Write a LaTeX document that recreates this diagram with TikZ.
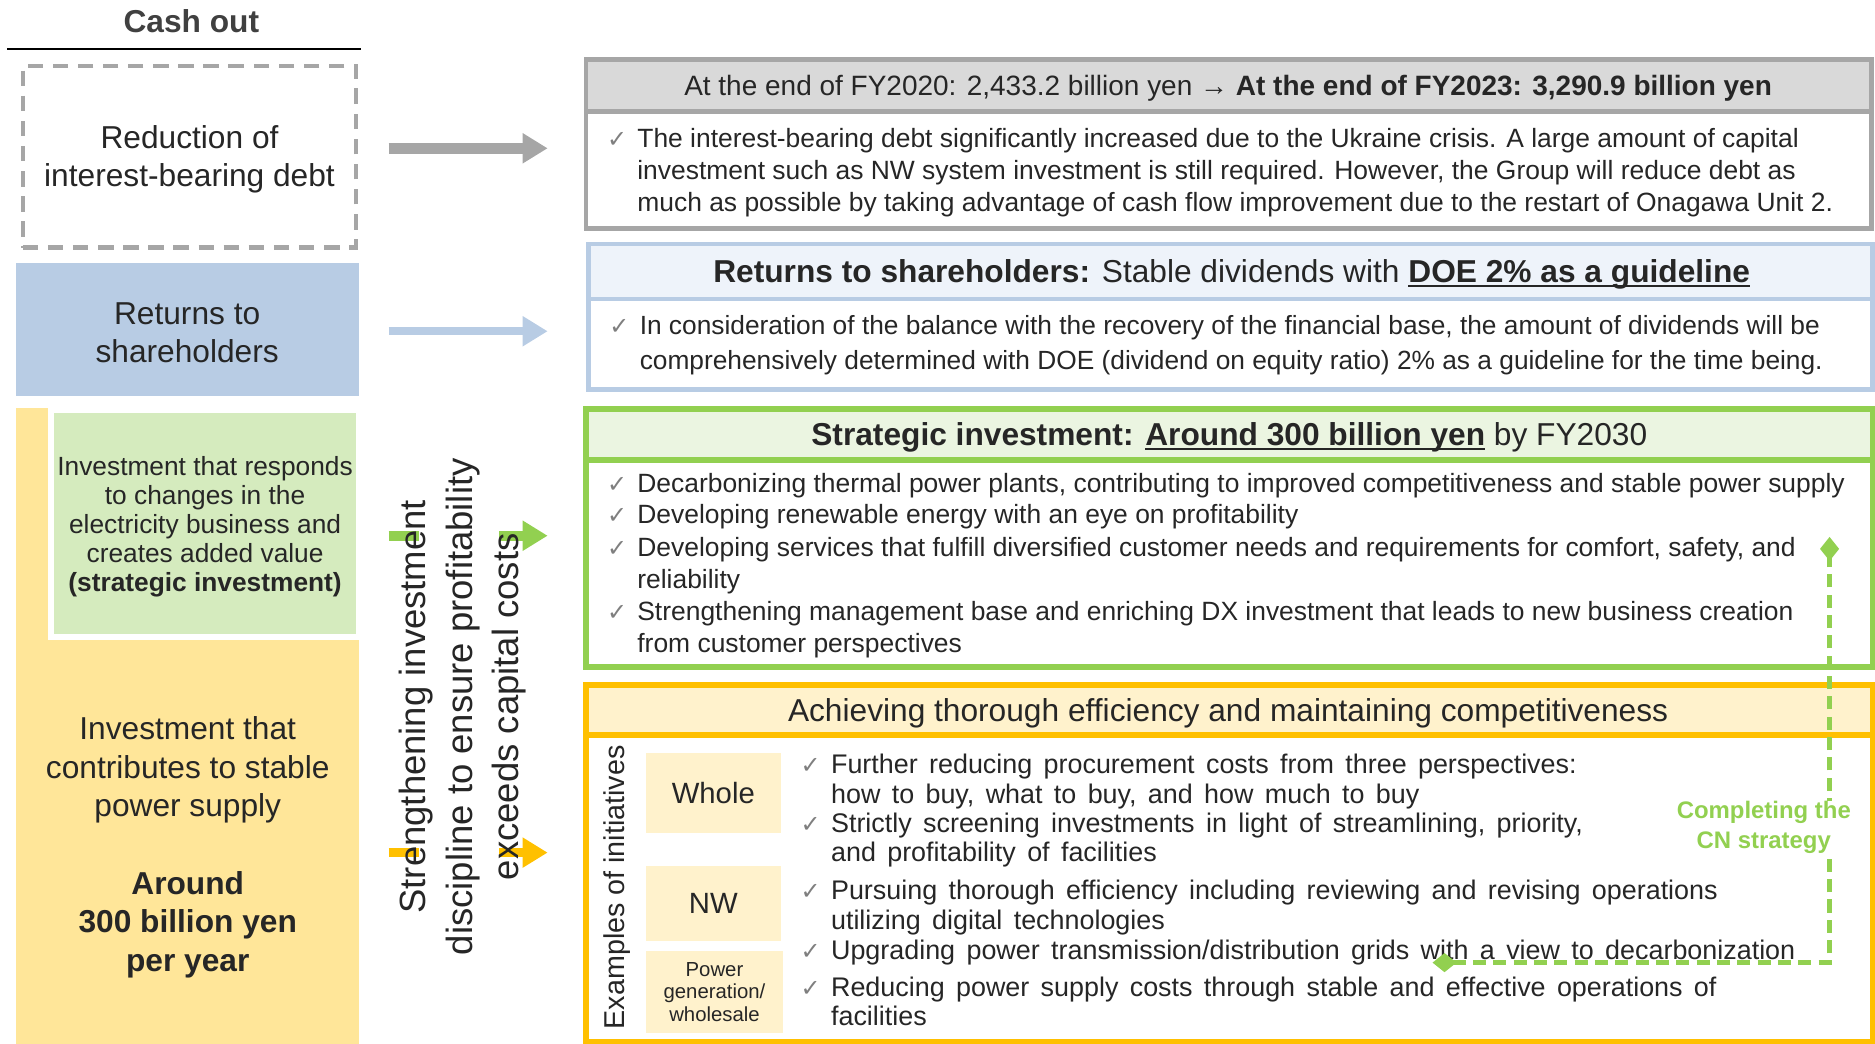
\documentclass[tikz,border=0pt]{standalone}
\usepackage{fontspec}
\setmainfont{Liberation Sans}
\newfontfamily\dejavu{DejaVu Sans}
\usetikzlibrary{arrows.meta}
\definecolor{grayline}{HTML}{A6A6A6}
\definecolor{grayfill}{HTML}{D9D9D9}
\definecolor{blueline}{HTML}{B8CCE4}
\definecolor{bluefill}{HTML}{EEF3FA}
\definecolor{greenline}{HTML}{92D050}
\definecolor{greenhead}{HTML}{EBF5E1}
\definecolor{greenbox}{HTML}{D5EBBE}
\definecolor{yellowline}{HTML}{FFC000}
\definecolor{yellowhead}{HTML}{FFF2CC}
\definecolor{yellowbox}{HTML}{FFE699}
\definecolor{txt}{HTML}{262626}
\definecolor{chkcol}{HTML}{7F7F7F}
\definecolor{cashcol}{HTML}{404040}
\newcommand\fsz[2]{\fontsize{#1pt}{#2pt}\selectfont}
\newcommand\effont{\fsz{22.5}{24.9}\spaceskip 9.5pt plus 1pt\relax}
\newcommand\ulbox[1]{\setbox0\hbox{#1}\rlap{\rule[-3.5pt]{\wd0}{1.8pt}}\box0}
\tikzset{
  blk/.style={line width=#1, -{Triangle[length=21pt, width=24pt]}},
  chk/.style={font=\fsz{20}{22}\dejavu, text=chkcol, anchor=base},
  para/.style={anchor=north west, align=left},
  effpara/.style={anchor=north west, align=left, font=\effont},
  headtxt/.style={font=\fsz{26.5}{30}},
  leftbox/.style={align=center, font=\fsz{26.5}{32}},
  smallbox/.style={fill=yellowhead, font=\fsz{24.5}{28}},
}
\begin{document}
\begin{tikzpicture}[x=1pt, y=-1pt, every node/.style={inner sep=0pt, outer sep=0pt, text=txt}]
\useasboundingbox (0,0) rectangle (1568,873);

% ---------------- left column ----------------
\node[font=\fsz{26.5}{30}\bfseries, text=cashcol] (cash) at (160,18) {Cash out};
\coordinate (rl1) at (6,41); \coordinate (rl2) at (302,41);
\draw[line width=2] (rl1) -- (rl2);

\node[draw=grayline, line width=3.5, dash pattern=on 13pt off 8pt,
      minimum width=279, minimum height=152] (debt) at (158.5,131) {};
\node[leftbox] (debttxt) at (158.5,133.5) {Reduction of\\interest-bearing debt};

\node[fill=blueline, minimum width=287, minimum height=111] (ret) at (156.5,275.5) {};
\node[leftbox] (rettxt) at (156.5,278.5) {Returns to\\shareholders};

\fill[yellowbox] (13,341) rectangle (300,873);
\node[fill=greenbox, draw=white, line width=5, minimum width=257, minimum height=190] (strat) at (171.5,438) {};
\node[align=center, font=\fsz{22}{24.3}] (strattxt) at (171.5,440.5)
  {Investment that responds\\to changes in the\\electricity business and\\creates added value\\\textbf{(strategic investment)}};
\node[leftbox, font=\fsz{26.5}{32.3}] (stable) at (157,708.5)
  {Investment that\\contributes to stable\\power supply\\[32.3pt]\textbf{Around}\\\textbf{300 billion yen}\\\textbf{per year}};

% arrows
\coordinate (a1s) at (325,124); \coordinate (a1e) at (458,124);
\coordinate (a2s) at (325,277); \coordinate (a2e) at (458,277);
\coordinate (a3s) at (325,448); \coordinate (a3e) at (458,448);
\coordinate (a4s) at (325,713); \coordinate (a4e) at (458,713);
\draw[blk=9, grayline] (a1s) -- (a1e);
\draw[blk=7, blueline] (a2s) -- (a2e);
\draw[blk=8, greenline] (a3s) -- (a3e);
\draw[blk=8, yellowline] (a4s) -- (a4e);
\fill[white] (350,370) rectangle (417,810);
\node[rotate=90, align=center, font=\fsz{30.5}{39}] (disc) at (387,591)
  {Strengthening investment\\discipline to ensure profitability\\exceeds capital costs};

% ---------------- right: debt ----------------
\fill[grayfill] (490,50) rectangle (1565,93);
\draw[grayline, line width=4] (490,93) -- (1565,93);
\draw[grayline, line width=4] (490,50) rectangle (1565,191);
\node[font=\fsz{23.4}{27}] (debthead) at (1027,73.5)
  {At the end of FY2020: 2,433.2 billion yen → \textbf{At the end of FY2023: 3,290.9 billion yen}};
\node[chk] (c1) at (516,123.1) {✓};
\node[para, font=\fsz{22.1}{27}] (debtbody) at (533,104.2)
  {\strut The interest-bearing debt significantly increased due to the Ukraine crisis. A large amount of capital\\
   investment such as NW system investment is still required. However, the Group will reduce debt as\\
   much as possible by taking advantage of cash flow improvement due to the restart of Onagawa Unit 2.};

% ---------------- right: returns ----------------
\fill[bluefill] (492,204) rectangle (1566,250);
\draw[blueline, line width=4] (492,250) -- (1566,250);
\draw[blueline, line width=4] (492,204) rectangle (1566,326);
\node[headtxt] (rethead) at (1030,229.5)
  {\textbf{Returns to shareholders:} Stable dividends with \ulbox{\textbf{DOE 2\% as a guideline}}};
\node[chk] (c2) at (518,280.1) {✓};
\node[para, font=\fsz{22}{29}] (retbody) at (535,259.8)
  {\strut In consideration of the balance with the recovery of the financial base, the amount of dividends will be\\
   comprehensively determined with DOE (dividend on equity ratio) 2\% as a guideline for the time being.};

% ---------------- right: strategic ----------------
\fill[greenhead] (490,342) rectangle (1566,385);
\draw[greenline, line width=5] (490,385) -- (1566,385);
\draw[greenline, line width=5] (490,342) rectangle (1566,558);
\node[headtxt] (strathead) at (1028,366)
  {\textbf{Strategic investment: \ulbox{Around 300 billion yen}} by FY2030};
\node[chk] (c3) at (516,412.1) {✓};
\node[para, font=\fsz{22.1}{26.8}] (s1) at (533,393.3)
  {\strut Decarbonizing thermal power plants, contributing to improved competitiveness and stable power supply};
\node[chk] (c4) at (516,438.1) {✓};
\node[para, font=\fsz{22.1}{26.8}] (s2) at (533,419.3)
  {\strut Developing renewable energy with an eye on profitability};
\node[chk] (c5) at (516,465.1) {✓};
\node[para, font=\fsz{22.1}{26.8}] (s3) at (533,446.3)
  {\strut Developing services that fulfill diversified customer needs and requirements for comfort, safety, and\\reliability};
\node[chk] (c6) at (516,519.1) {✓};
\node[para, font=\fsz{22.1}{26.8}] (s4) at (533,500.3)
  {\strut Strengthening management base and enriching DX investment that leads to new business creation\\from customer perspectives};

% ---------------- right: efficiency ----------------
\fill[yellowhead] (490,573) rectangle (1566,615);
\draw[yellowline, line width=5] (490,615) -- (1566,615);
\draw[yellowline, line width=5] (490,573) rectangle (1566,871);
\node[headtxt] (effhead) at (1027,596.5)
  {Achieving thorough efficiency and maintaining competitiveness};
\node[rotate=90, font=\fsz{24}{28}] (ex) at (516,742) {Examples of initiatives};
\node[smallbox, minimum width=113, minimum height=67] (whole) at (596.5,663.5) {Whole};
\node[smallbox, minimum width=113, minimum height=63] (nw) at (596.5,755.5) {NW};
\node[smallbox, minimum width=115, minimum height=69, align=center, font=\fsz{17}{19}] (pg) at (597.5,829.5)
  {Power\\generation/\\wholesale};

\node[chk] (c7) at (678,647) {✓};
\node[effpara] (e1) at (695,629.5)
  {\strut Further reducing procurement costs from three perspectives:\\how to buy, what to buy, and how much to buy};
\node[chk] (c8) at (678,696) {✓};
\node[effpara] (e2) at (695,678.5)
  {\strut Strictly screening investments in light of streamlining, priority,\\and profitability of facilities};
\node[chk] (c9) at (678,752.3) {✓};
\node[effpara] (e3) at (695,734.8)
  {\strut Pursuing thorough efficiency including reviewing and revising operations\\utilizing digital technologies};
\node[chk] (c10) at (678,802.5) {✓};
\node[effpara] (e4) at (695,785)
  {\strut Upgrading power transmission/distribution grids with a view to decarbonization};
\node[chk] (c11) at (678,833) {✓};
\node[effpara] (e5) at (695,815.5)
  {\strut Reducing power supply costs through stable and effective operations of\\facilities};

% CN strategy dashed connector
\coordinate (cnA) at (1198,805);
\coordinate (cnB) at (1530,449);
\draw[greenline, line width=4, dash pattern=on 11pt off 6pt,
      {Diamond[length=20pt, width=16pt]}-{Diamond[length=20pt, width=16pt]}] (cnA) -| (cnB);
\node[fill=white, align=center, font=\fsz{20}{25}\bfseries, text=greenline] (cn) at (1475,692)
  {Completing the\\CN strategy};
\end{tikzpicture}
\end{document}
